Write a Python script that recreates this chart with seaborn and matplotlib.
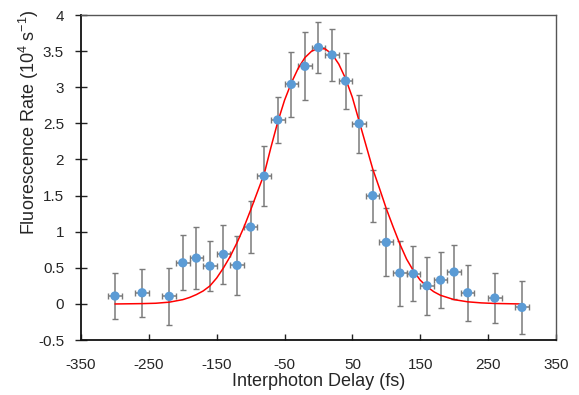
import matplotlib
matplotlib.use("Agg")
from matplotlib import pyplot as plt
import pandas as pd
import seaborn as sns

# measured points (delay in fs, rate in 10^4 s^-1)
delay = [-300, -260, -220, -200, -180, -160, -140, -120, -100, -80, -60, -40, -20, 0,
         20, 40, 60, 80, 100, 120, 140, 160, 180, 200, 220, 260, 300]
rate = [0.11, 0.155, 0.105, 0.57, 0.635, 0.525, 0.687, 0.535, 1.065, 1.77, 2.547, 3.04, 3.29, 3.55,
        3.447, 3.087, 2.496, 1.50, 0.853, 0.428, 0.418, 0.252, 0.331, 0.442, 0.155, 0.082, -0.047]
rate_err = [0.32, 0.33, 0.39, 0.38, 0.43, 0.35, 0.41, 0.41, 0.36, 0.41, 0.32, 0.45, 0.47, 0.35,
            0.36, 0.39, 0.40, 0.36, 0.47, 0.45, 0.38, 0.40, 0.39, 0.37, 0.385, 0.35, 0.37]
delay_err = 10

# fit curve
fit_x = [-300, -260, -240, -220, -200, -190, -180, -170, -160, -150, -140, -130, -120, -110,
         -100, -90, -80, -70, -60, -50, -40, -30, -20, -10, 0, 10, 20, 30, 40, 50, 60, 70,
         80, 90, 100, 110, 120, 130, 140, 150, 160, 170, 180, 190, 200, 220, 240, 260, 300]
fit_y = [0.0, 0.005, 0.01, 0.025, 0.06, 0.09, 0.13, 0.18, 0.25, 0.36, 0.50, 0.66, 0.85, 1.06,
         1.30, 1.55, 1.80, 2.17, 2.52, 2.82, 3.06, 3.26, 3.41, 3.50, 3.54, 3.53, 3.46, 3.32,
         3.12, 2.86, 2.53, 2.20, 1.87, 1.60, 1.32, 1.07, 0.83, 0.62, 0.46, 0.33, 0.24, 0.17,
         0.12, 0.09, 0.06, 0.03, 0.015, 0.007, 0.0]

x_ticks = [-350, -250, -150, -50, 50, 150, 250, 350]
y_ticks = [-0.5, 0, 0.5, 1, 1.5, 2, 2.5, 3, 3.5, 4]
y_tick_labels = ['-0.5', '0', '0.5', '1', '1.5', '2', '2.5', '3', '3.5', '4']

points = pd.DataFrame({'delay': delay, 'rate': rate})
fit = pd.DataFrame({'delay': fit_x, 'rate': fit_y})

sns.set_style('ticks')
plt.rcParams['font.family'] = ['Liberation Sans', 'DejaVu Sans']
plt.rcParams['mathtext.default'] = 'regular'
plt.rcParams['axes.unicode_minus'] = False

fig = plt.figure(figsize=(5.79, 3.95), dpi=100)
ax = fig.add_axes([0.140, 0.139, 0.820, 0.823])

# error bars first, then the fit, then the dots on top
ax.errorbar(delay, rate, yerr=rate_err, xerr=delay_err, fmt='none',
            ecolor='#7a7a7a', elinewidth=1.1, capsize=2, capthick=1, zorder=2)
sns.lineplot(data=fit, x='delay', y='rate', color='#ff0000', linewidth=1.1, ax=ax, zorder=3)
sns.scatterplot(data=points, x='delay', y='rate', color='#5b9bd5', s=45,
                edgecolor='none', ax=ax, zorder=4)

ax.set_xlim(-350, 350)
ax.set_ylim(-0.5, 4)
ax.set_xticks(x_ticks)
ax.set_yticks(y_ticks)
ax.set_yticklabels(y_tick_labels)
ax.tick_params(axis='x', direction='in', length=4, width=1, labelsize=11, pad=13, color='#222222')
ax.tick_params(axis='y', direction='inout', length=8.5, width=1, labelsize=11, pad=8, color='#222222')

for side in ['left', 'bottom']:
    ax.spines[side].set_linewidth(1.3)
    ax.spines[side].set_color('#111111')
for side in ['top', 'right']:
    ax.spines[side].set_linewidth(1.0)
    ax.spines[side].set_color('#555555')

ax.set_xlabel('Interphoton Delay (fs)', fontsize=13)
ax.set_ylabel('Fluorescence Rate (10$^{4}$ s$^{-1}$)', fontsize=13)
ax.xaxis.set_label_coords(0.5, -0.102)
ax.yaxis.set_label_coords(-0.084, 0.671)

fig.savefig('out.png', dpi=100)
